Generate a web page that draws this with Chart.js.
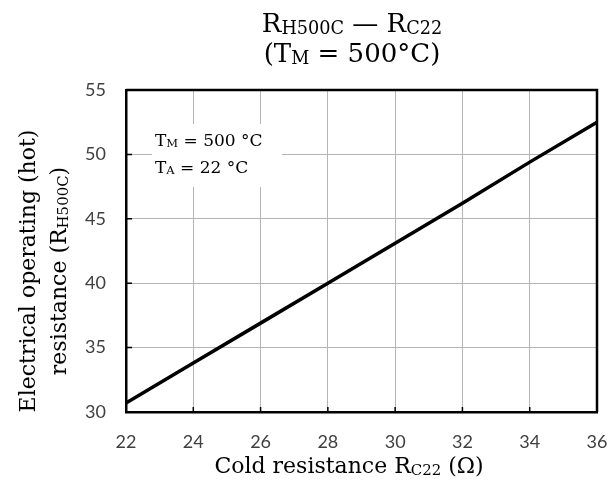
<!DOCTYPE html>
<html lang="en">
<head>
<meta charset="UTF-8">
<title>RH500C vs RC22</title>
<script src="https://cdn.jsdelivr.net/npm/chart.js"></script>
<style>
  html, body { margin: 0; padding: 0; background: #fff; }
  #wrap { width: 614px; height: 490px; position: relative; }
</style>
</head>
<body>
<div id="wrap"><canvas id="chart"></canvas></div>
<script>
// data
const coldRes = [22, 24, 26, 28, 30, 32, 34, 36];
const hotRes = [30.7, 33.8, 36.9, 40.0, 43.1, 46.2, 49.4, 52.5];
const xTickValues = [22, 24, 26, 28, 30, 32, 34, 36];
const yTickValues = [30, 35, 40, 45, 50, 55];

// text runs: [text, isSubscript]
const titleLines = [
  [['R'], ['H500C', 1], [' \u2014 R'], ['C22', 1]],
  [['(T'], ['M', 1], [' = 500\u00B0C)']]
];
const yTitleLines = [
  [['Electrical operating (hot)']],
  [['resistance (R'], ['H500C', 1], [')']]
];
const xTitleLine = [['Cold resistance R'], ['C22', 1], [' (\u03A9)']];
const noteLines = [
  [['T'], ['M', 1], [' = 500 \u00B0C']],
  [['T'], ['A', 1], [' = 22 \u00B0C']]
];

const SERIF = '"DejaVu Serif", serif';
const SANS = 'Lato, "Open Sans", sans-serif';

function runsWidth(ctx, runs, size) {
  let w = 0;
  runs.forEach(r => {
    ctx.font = (r[1] ? size * 0.68 : size) + 'px ' + SERIF;
    w += ctx.measureText(r[0]).width;
  });
  return w;
}

function drawRuns(ctx, runs, x, y, size, align) {
  let cx = align === 'center' ? x - runsWidth(ctx, runs, size) / 2 : x;
  ctx.textBaseline = 'alphabetic';
  ctx.textAlign = 'left';
  runs.forEach(r => {
    const s = r[1] ? size * 0.68 : size;
    ctx.font = s + 'px ' + SERIF;
    ctx.fillText(r[0], cx, r[1] ? y + size * 0.08 : y);
    cx += ctx.measureText(r[0]).width;
  });
}

const decorPlugin = {
  id: 'decor',
  beforeDatasetsDraw(chart) {
    const ctx = chart.ctx;
    const a = chart.chartArea;
    const xs = chart.scales.x, ys = chart.scales.y;
    ctx.save();
    // note box
    ctx.fillStyle = '#fff';
    ctx.fillRect(152, 124, 130, 63);
    // frame top/right
    ctx.strokeStyle = '#000';
    ctx.lineWidth = 2.5;
    ctx.beginPath();
    ctx.moveTo(a.left, a.top);
    ctx.lineTo(a.right, a.top);
    ctx.lineTo(a.right, a.bottom);
    ctx.stroke();
    // inner tick marks
    ctx.lineWidth = 1.5;
    ctx.beginPath();
    xTickValues.forEach(v => {
      const px = xs.getPixelForValue(v);
      ctx.moveTo(px, a.bottom);
      ctx.lineTo(px, a.bottom - 5);
    });
    yTickValues.forEach(v => {
      const py = ys.getPixelForValue(v);
      ctx.moveTo(a.left, py);
      ctx.lineTo(a.left + 6, py);
    });
    ctx.stroke();
    ctx.restore();
  },
  afterDraw(chart) {
    const ctx = chart.ctx;
    ctx.save();
    ctx.fillStyle = '#000';
    drawRuns(ctx, titleLines[0], 352, 32, 26, 'center');
    drawRuns(ctx, titleLines[1], 352, 62, 26, 'center');
    drawRuns(ctx, xTitleLine, 349, 473, 22, 'center');
    ctx.translate(0, 271);
    ctx.rotate(-Math.PI / 2);
    drawRuns(ctx, yTitleLines[0], 0, 35, 22, 'center');
    drawRuns(ctx, yTitleLines[1], 0, 66, 22, 'center');
    ctx.restore();
    ctx.save();
    ctx.fillStyle = '#000';
    drawRuns(ctx, noteLines[0], 155, 146, 17, 'left');
    drawRuns(ctx, noteLines[1], 155, 173, 17, 'left');
    ctx.restore();
  }
};

new Chart(document.getElementById('chart'), {
  type: 'scatter',
  data: {
    datasets: [{
      data: coldRes.map((x, i) => ({ x: x, y: hotRes[i] })),
      showLine: true,
      borderColor: '#000',
      borderWidth: 3.5,
      pointRadius: 0,
      tension: 0
    }]
  },
  options: {
    responsive: true,
    maintainAspectRatio: false,
    animation: false,
    layout: { padding: { top: 90, right: 17, left: 0, bottom: 0 } },
    plugins: { legend: { display: false }, tooltip: { enabled: false } },
    scales: {
      x: {
        type: 'linear',
        min: xTickValues[0],
        max: xTickValues[xTickValues.length - 1],
        afterFit: s => { s.height = 78; s.paddingLeft = 0; s.paddingRight = 0; },
        afterBuildTicks: s => { s.ticks = xTickValues.map(v => ({ value: v })); },
        grid: { color: '#b5b5b5', lineWidth: 1, drawTicks: false },
        border: { color: '#000', width: 2.5 },
        ticks: { padding: 19, color: '#404040', font: { family: SANS, size: 18 }, maxRotation: 0 }
      },
      y: {
        min: yTickValues[0],
        max: yTickValues[yTickValues.length - 1],
        afterFit: s => { s.width = 126; s.paddingTop = 0; s.paddingBottom = 0; },
        afterBuildTicks: s => { s.ticks = yTickValues.map(v => ({ value: v })); },
        grid: { color: '#b5b5b5', lineWidth: 1, drawTicks: false },
        border: { color: '#000', width: 2.5 },
        ticks: { padding: 20, color: '#404040', font: { family: SANS, size: 18 } }
      }
    }
  },
  plugins: [decorPlugin]
});
</script>
</body>
</html>
